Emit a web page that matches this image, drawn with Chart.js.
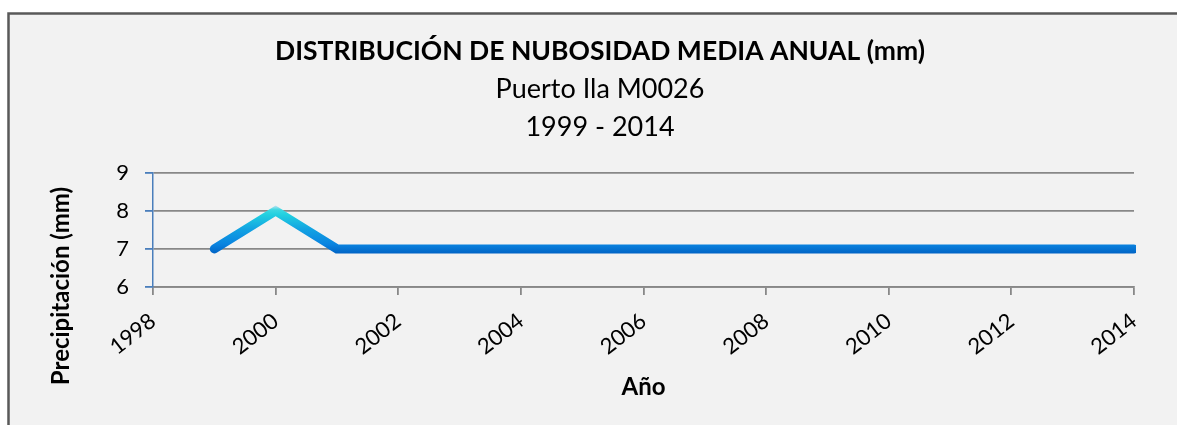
<!DOCTYPE html>
<html>
<head>
<meta charset="utf-8">
<script src="https://cdn.jsdelivr.net/npm/chart.js@4"></script>
<style>
  html, body { margin: 0; padding: 0; background: #fff; overflow: hidden; }
  #wrap { width: 1177px; height: 425px; overflow: hidden; }
  #wrap div { width: 1200px; height: 425px; position: relative; }
</style>
</head>
<body>
<div id="wrap"><div><canvas id="nubChart"></canvas></div></div>
<script>
// data
const years = [1999, 2000, 2001, 2002, 2003, 2004, 2005, 2006, 2007, 2008, 2009, 2010, 2011, 2012, 2013, 2014];
const nubosidad = [7, 8, 7, 7, 7, 7, 7, 7, 7, 7, 7, 7, 7, 7, 7, 7];
const xRange = [1998, 2014];
const yRange = [6, 9];

const titleText = 'DISTRIBUCIÓN DE NUBOSIDAD MEDIA ANUAL (mm)';
const subtitleText = ['Puerto Ila M0026', '1999 - 2014'];
const yTitle = 'Precipitación (mm)';
const xTitle = 'Año';

const FONT = 'Lato, "Noto Sans", sans-serif';

// grey frame like the excel chart box
const frame = {
    id: 'frame',
    beforeDraw(chart) {
        const c = chart.ctx;
        c.save();
        c.fillStyle = '#ffffff';
        c.fillRect(0, 0, chart.width, chart.height);
        c.fillStyle = '#f2f2f2';
        c.fillRect(8, 13, chart.width, chart.height);
        c.strokeStyle = '#595959';
        c.lineWidth = 2.5;
        c.strokeRect(8.5, 13.5, chart.width + 10, chart.height + 10);
        c.restore();
    }
};

// y axis title sits lower than the plot centre in the original
const yAxisTitle = {
    id: 'yAxisTitle',
    afterDraw(chart) {
        const c = chart.ctx;
        c.save();
        c.translate(61, 286);
        c.rotate(-Math.PI / 2);
        c.font = 'bold 24px ' + FONT;
        c.fillStyle = '#000';
        c.textAlign = 'center';
        c.textBaseline = 'middle';
        c.fillText(yTitle, 0, 0);
        c.restore();
    }
};

function lineGradient(context) {
    const chart = context.chart;
    const area = chart.chartArea;
    if (!area) return '#0070d0';
    const y = chart.scales.y;
    const top = y.getPixelForValue(8) - 6;
    const bottom = y.getPixelForValue(7) + 5;
    const g = chart.ctx.createLinearGradient(0, top, 0, bottom);
    g.addColorStop(0, '#d6e4f4');
    g.addColorStop(0.1, '#3cd8e2');
    g.addColorStop(0.2, '#22d0e0');
    g.addColorStop(0.5, '#12a2e2');
    g.addColorStop(0.8, '#0a84e0');
    g.addColorStop(1, '#0062c4');
    return g;
}

const ctx = document.getElementById('nubChart').getContext('2d');

new Chart(ctx, {
    type: 'line',
    data: {
        datasets: [{
            data: years.map((yr, i) => ({ x: yr, y: nubosidad[i] })),
            borderColor: lineGradient,
            borderWidth: 9,
            borderCapStyle: 'round',
            borderJoinStyle: 'miter',
            pointRadius: 0,
            tension: 0,
            clip: { left: 10, top: 10, right: 2, bottom: 10 }
        }]
    },
    options: {
        responsive: true,
        maintainAspectRatio: false,
        animation: false,
        layout: { padding: { left: 8, right: 8, top: 0, bottom: 0 } },
        scales: {
            x: {
                type: 'linear',
                min: xRange[0],
                max: xRange[1],
                afterFit: (s) => { s.height = 138; },
                ticks: {
                    stepSize: 2,
                    minRotation: 38,
                    maxRotation: 38,
                    padding: 13,
                    color: '#000',
                    font: { family: FONT, size: 22 },
                    callback: (v) => String(v)
                },
                grid: {
                    drawOnChartArea: false,
                    color: '#888888',
                    lineWidth: 1.8,
                    tickLength: 8
                },
                border: { color: '#888888', width: 1.8 },
                title: {
                    display: true,
                    text: xTitle,
                    color: '#000',
                    font: { family: FONT, size: 24, weight: 'bold', lineHeight: 1.2 },
                    padding: { top: 0, bottom: 23.5 }
                }
            },
            y: {
                min: yRange[0],
                max: yRange[1],
                afterFit: (s) => { s.width = 145; },
                ticks: {
                    stepSize: 1,
                    padding: 16,
                    color: '#000',
                    font: { family: FONT, size: 22 }
                },
                grid: {
                    color: '#888888',
                    lineWidth: 1.8,
                    tickColor: '#4a7ebb',
                    tickLength: 8
                },
                border: { color: '#4a7ebb', width: 1.5 }
            },
            // empty axis on the right, only keeps the plot end where the original has it
            yRight: {
                position: 'right',
                display: true,
                afterFit: (s) => { s.width = 58; },
                ticks: { display: false },
                grid: { display: false },
                border: { display: false }
            }
        },
        plugins: {
            legend: { display: false },
            tooltip: { enabled: false },
            title: {
                display: true,
                text: titleText,
                color: '#000',
                font: { family: FONT, size: 26.5, weight: 'bold', lineHeight: 1.2 },
                padding: { top: 36, bottom: 0 }
            },
            subtitle: {
                display: true,
                text: subtitleText,
                color: '#000',
                font: { family: FONT, size: 27, weight: 'normal', lineHeight: 38 / 27 },
                padding: { top: 2, bottom: 27 }
            }
        }
    },
    plugins: [frame, yAxisTitle]
});
</script>
</body>
</html>
